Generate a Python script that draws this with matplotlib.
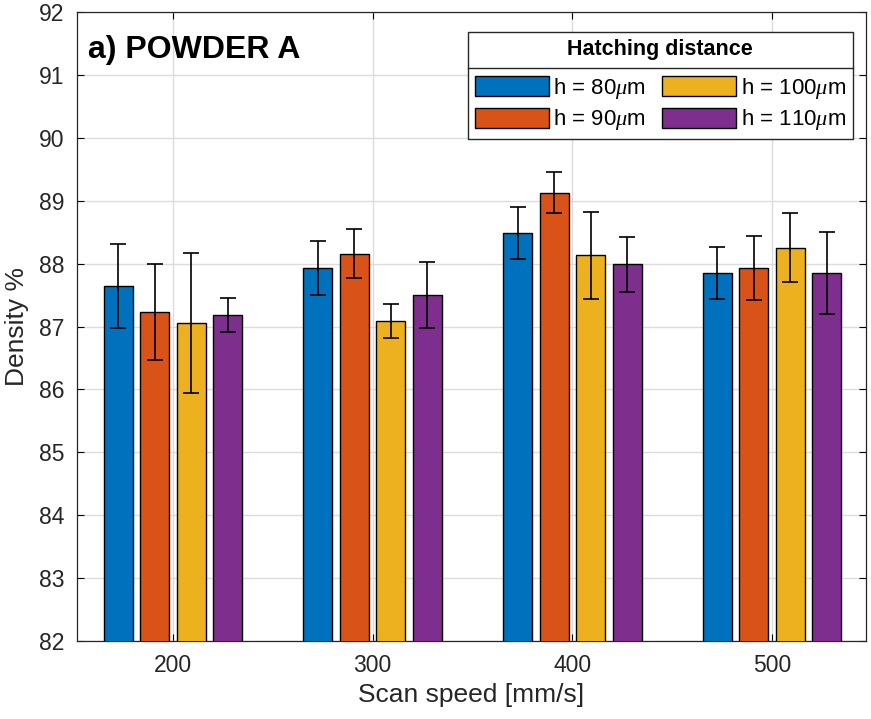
import numpy as np
import matplotlib.pyplot as plt
from matplotlib.lines import Line2D

plt.rcParams['font.family'] = ['Liberation Sans', 'DejaVu Sans']
plt.rcParams['mathtext.fontset'] = 'custom'
plt.rcParams['mathtext.it'] = 'Liberation Serif:italic'

# Data
speeds = [200, 300, 400, 500]
labels = [r'h = 80$\mathit{\mu}$m', r'h = 90$\mathit{\mu}$m',
          r'h = 100$\mathit{\mu}$m', r'h = 110$\mathit{\mu}$m']
colors = ['#0072BD', '#D95319', '#EDB120', '#7E2F8E']

dens_80 = [87.64, 87.93, 88.49, 87.85]
dens_90 = [87.23, 88.16, 89.13, 87.93]
dens_100 = [87.06, 87.09, 88.13, 88.25]
dens_110 = [87.18, 87.50, 87.99, 87.85]

err_80 = [0.67, 0.43, 0.41, 0.42]
err_90 = [0.76, 0.39, 0.32, 0.51]
err_100 = [1.11, 0.265, 0.69, 0.55]
err_110 = [0.27, 0.52, 0.44, 0.65]

densities = [dens_80, dens_90, dens_100, dens_110]
errors = [err_80, err_90, err_100, err_110]

fig = plt.figure(figsize=(8.71, 7.19), dpi=100)
ax = fig.add_axes([77/871, 78/719, 789/871, 629/719])

x = np.array(speeds, dtype=float)
step = 18.3
width = 14.5
offsets = (np.arange(4) - 1.5) * step

handles = []
for i in range(4):
    b = ax.bar(x + offsets[i], densities[i], width, bottom=0, color=colors[i],
               edgecolor='black', linewidth=1.0, label=labels[i], zorder=3)
    ax.errorbar(x + offsets[i], densities[i], yerr=errors[i], fmt='none',
                ecolor='black', elinewidth=1.2, capsize=5.8, capthick=1.2, zorder=4)
    handles.append(b)

ax.set_ylim(82, 92)
ax.set_xlim(152, 547)
ax.set_yticks(np.arange(82, 93, 1))
ax.set_xticks(speeds)
ax.grid(True, color='#dcdcdc', linewidth=1.0, zorder=0)
ax.set_axisbelow(True)
ax.tick_params(direction='in', top=True, right=True, labelsize=16.5,
               labelcolor='#262626', length=5, width=0.8, pad=9)
for s in ax.spines.values():
    s.set_color('#262626')
    s.set_linewidth(0.9)

ax.set_xlabel('Scan speed [mm/s]', fontsize=19, color='#262626', labelpad=5)
ax.set_ylabel('Density %', fontsize=19, color='#262626', labelpad=7)

ax.text(0.014, 0.94, 'a) POWDER A', transform=ax.transAxes, fontsize=23,
        fontweight='bold', va='center', ha='left', zorder=6)

leg = ax.legend(handles=handles, labels=labels,
                ncol=2, loc='upper right', bbox_to_anchor=(0.983, 0.968),
                fontsize=16, title='Hatching distance',
                title_fontproperties={'weight': 'bold', 'size': 15.5},
                frameon=True, fancybox=False, edgecolor='#262626',
                framealpha=1.0, handlelength=3.33, handleheight=1.0,
                handletextpad=0.2, columnspacing=0.75, labelspacing=0.3,
                borderpad=0.3, borderaxespad=0)
leg.get_frame().set_linewidth(1.0)
leg.set_zorder(7)
# a bit more room between the title and the entries
leg._legend_box.sep = 11.5

# separator line under the legend title
fig.canvas.draw()
r = fig.canvas.get_renderer()
fb = leg.get_frame().get_window_extent(r)
tb = leg.get_title().get_window_extent(r)
hb = leg._legend_handle_box.get_window_extent(r)
ysep = 0.5 * (tb.y0 + hb.y1)
inv = fig.transFigure.inverted()
(x0, y0), (x1, _) = inv.transform([(fb.x0, ysep), (fb.x1, ysep)])
fig.add_artist(Line2D([x0, x1], [y0, y0], color='#262626', linewidth=1.0,
                      transform=fig.transFigure, zorder=8))

fig.savefig('out.png', dpi=100)
